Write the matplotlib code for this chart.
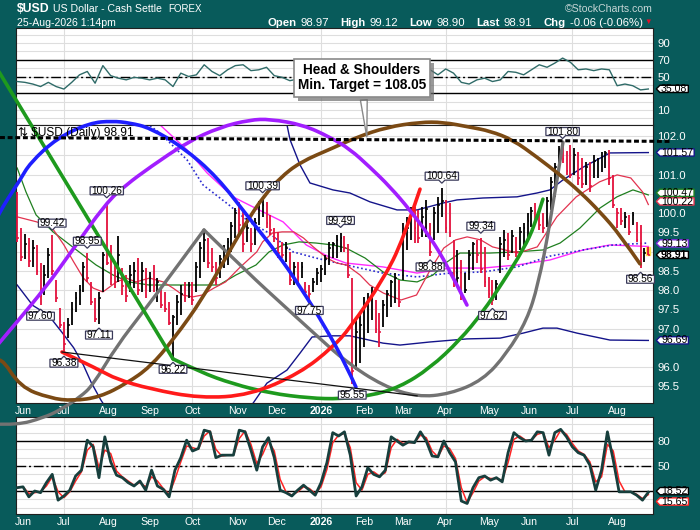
import numpy as np
import matplotlib
matplotlib.use("Agg")
import matplotlib.pyplot as plt
import matplotlib.transforms as mtransforms
import matplotlib.patheffects as pe
from matplotlib.path import Path
from matplotlib.patches import PathPatch, Rectangle
from matplotlib.offsetbox import TextArea, HPacker, AnchoredOffsetbox

plt.rcParams['font.family'] = ['Liberation Sans', 'DejaVu Sans']

TEAL = '#085b5b'
GRID = '#dedede'
NAVY = '#14148a'

# x axis is the trading-day index (0 = 2 Jun 2025)
month_idx = [0, 21, 44, 65, 87, 110, 130, 153, 175, 195, 217, 239, 260, 282, 305]
month_lbl = ['Jun', 'Jul', 'Aug', 'Sep', 'Oct', 'Nov', 'Dec', '2026',
             'Feb', 'Mar', 'Apr', 'May', 'Jun', 'Jul', 'Aug']
quarter_idx = [21, 87, 153, 217, 282]

# price bars, one every 2 trading days starting at index -3
highs = [100.55, 99.60, 99.45, 99.35, 99.30, 99.17, 98.70, 98.65, 99.10, 99.42,
         98.26, 97.53, 97.17, 97.27, 97.69, 97.95, 98.13, 98.73, 98.95, 98.20,
         97.79, 97.95, 99.00, 100.26, 99.17, 98.73, 99.40, 98.57, 98.39, 98.65,
         98.73, 98.83, 98.73, 98.57, 98.47, 98.65, 98.31, 98.05, 97.95, 97.69,
         97.35, 97.87, 98.13, 98.20, 98.20, 98.20, 98.73, 99.25, 99.56, 99.35,
         99.09, 98.73, 98.91, 99.17, 99.35, 99.77, 100.13, 100.29, 100.03, 99.87,
         99.61, 99.87, 100.30, 100.39, 100.29, 99.95, 99.61, 99.51, 99.25, 99.25,
         98.99, 98.73, 98.73, 98.73, 98.20, 98.13, 98.31, 98.57, 98.65, 98.91,
         99.25, 99.25, 99.43, 99.49, 99.40, 99.20, 98.30, 97.22, 97.40, 97.82,
         97.92, 98.08, 97.74, 97.40, 97.74, 98.00, 98.26, 98.44, 98.26, 99.74,
         99.90, 100.16, 100.16, 100.08, 100.16, 100.34, 99.74, 100.16, 100.42, 100.64,
         100.34, 100.26, 99.30, 99.04, 98.78, 98.44, 99.04, 99.25, 99.30, 99.34,
         99.12, 98.34, 98.26, 98.26, 99.38, 99.56, 99.48, 99.56, 99.38, 99.64,
         99.74, 100.00, 100.16, 100.26, 100.08, 100.00, 100.42, 100.94, 101.30, 101.75,
         101.80, 101.60, 101.77, 101.69, 101.58, 101.43, 101.32, 101.32, 101.50, 101.43,
         101.58, 101.62, 101.64, 100.99, 100.13, 100.13, 100.03, 99.95, 100.03, 99.77,
         99.69, 99.09, 99.12]
lows = [99.25, 98.75, 98.80, 98.60, 98.60, 98.40, 97.60, 97.87, 98.31, 98.40,
        97.69, 97.01, 96.38, 96.75, 97.09, 97.43, 97.61, 97.95, 98.20, 97.61,
        97.17, 97.11, 97.95, 98.65, 98.13, 98.05, 98.20, 97.87, 97.69, 97.95,
        98.05, 97.87, 97.95, 97.79, 97.95, 97.95, 97.69, 97.53, 97.43, 97.09,
        96.22, 97.09, 97.35, 97.69, 97.79, 97.61, 97.95, 98.31, 98.73, 98.57,
        98.47, 98.13, 98.31, 98.57, 98.65, 98.99, 99.35, 99.43, 98.99, 99.25,
        98.99, 99.17, 99.69, 99.90, 99.61, 99.43, 99.25, 98.83, 98.83, 98.73,
        98.13, 98.13, 98.20, 98.31, 97.87, 97.75, 97.95, 98.13, 98.20, 98.39,
        98.65, 98.83, 98.83, 98.99, 98.99, 98.30, 95.55, 95.92, 96.10, 96.52,
        96.88, 97.22, 96.88, 96.52, 97.04, 97.30, 97.56, 97.66, 97.56, 98.26,
        99.04, 99.30, 99.22, 99.22, 99.38, 99.38, 98.88, 99.30, 99.48, 99.90,
        99.48, 99.38, 98.08, 98.13, 97.74, 97.92, 98.26, 98.52, 98.70, 98.44,
        98.08, 97.79, 97.62, 97.74, 98.44, 98.86, 98.78, 98.96, 98.86, 99.04,
        99.12, 99.30, 99.64, 99.74, 99.56, 99.48, 99.64, 100.08, 100.42, 101.04,
        101.30, 101.00, 100.91, 100.99, 100.73, 100.65, 100.73, 100.55, 100.91, 100.91,
        101.06, 101.17, 100.73, 100.13, 99.61, 99.69, 99.61, 99.43, 99.69, 99.25,
        98.56, 98.73, 98.90]
closes = [99.35, 98.85, 99.20, 98.75, 99.10, 98.50, 97.85, 98.40, 98.90, 98.50,
          97.80, 97.10, 96.60, 97.10, 97.50, 97.80, 98.00, 98.60, 98.30, 97.70,
          97.25, 97.80, 98.90, 98.70, 98.30, 98.20, 98.90, 98.10, 97.85, 98.40,
          98.50, 98.00, 98.50, 98.10, 98.35, 98.10, 98.20, 97.60, 97.50, 97.15,
          97.30, 97.70, 97.90, 97.80, 98.10, 97.75, 98.60, 99.10, 99.30, 98.70,
          98.60, 98.30, 98.80, 99.05, 99.25, 99.65, 100.00, 99.70, 99.20, 99.60,
          99.20, 99.75, 100.15, 100.20, 99.75, 99.55, 99.35, 98.95, 98.90, 99.10,
          98.25, 98.60, 98.35, 98.60, 97.95, 97.90, 98.20, 98.45, 98.55, 98.80,
          99.10, 99.20, 99.30, 99.35, 99.10, 98.40, 95.90, 96.90, 97.10, 97.60,
          97.80, 97.90, 97.00, 96.90, 97.60, 97.90, 98.20, 98.30, 97.70, 99.50,
          99.60, 100.00, 99.60, 99.35, 99.90, 100.10, 99.00, 100.00, 100.20, 100.30,
          99.60, 99.50, 98.20, 98.30, 97.90, 98.00, 98.90, 99.20, 98.90, 98.55,
          98.20, 97.90, 97.75, 98.15, 99.20, 99.30, 98.90, 99.40, 99.00, 99.50,
          99.60, 99.80, 100.05, 99.85, 99.70, 99.60, 100.30, 100.80, 101.20, 101.65,
          101.40, 101.10, 101.00, 101.50, 100.90, 100.75, 101.20, 100.70, 101.35, 101.40,
          101.45, 101.55, 100.90, 100.20, 100.00, 99.80, 99.90, 99.50, 99.95, 99.30,
          98.65, 98.97, 98.91]
hi_marks = [9, 18, 23, 63, 83, 109, 119, 140]
lo_marks = [6, 12, 21, 40, 75, 86, 106, 122, 160]

# moving averages and channels (trading-day index, price)
ma20_x = [-3, 7, 15, 21, 26, 31, 36, 41, 48, 53, 58, 65, 72, 77, 82, 87, 92, 98, 104, 111,
          120, 123, 128, 133, 139, 144, 149, 156, 161, 166, 173, 178, 185, 194, 202, 209,
          216, 222, 228, 235, 241, 254, 264, 274, 284, 296, 305, 312, 318, 321]
ma20_y = [99.90, 99.77, 99.61, 99.17, 98.73, 98.31, 98.05, 97.95, 98.21, 98.31,
          98.21, 98.31, 98.21, 98.05, 97.87, 97.82, 97.87, 98.05, 98.21, 98.57,
          98.99, 99.25, 99.48, 99.51, 99.51, 99.35, 99.12, 98.83, 98.70, 98.65,
          98.39, 98.13, 97.92, 97.74, 97.87, 98.52, 99.09, 99.30, 99.38, 99.30,
          99.12, 98.96, 99.12, 99.90, 100.42, 100.81, 100.99, 100.91, 100.55, 100.22]
ma50_x = [-3, 1.5, 6.7, 15.4, 22.1, 30.8, 37.5, 46.2, 54.4, 64.7, 82.1, 100.6, 109.3,
          119.6, 126.3, 133.5, 141.7, 150.4, 159.1, 165.8, 175.6, 184.8, 193.5, 202.3,
          210.5, 217.7, 224.3, 239.7, 253.6, 266.9, 275.7, 285.9, 296.2, 304.9, 313.1, 321]
ma50_y = [101.17, 100.55, 99.95, 99.51, 99.25, 98.91, 98.65, 98.39, 98.21, 98.13,
          98.13, 98.13, 98.39, 98.65, 98.99, 99.17, 99.25, 99.22, 99.17, 99.09,
          98.83, 98.47, 98.26, 98.21, 98.39, 98.73, 98.96, 98.96, 98.99, 99.04,
          99.22, 99.61, 100.13, 100.42, 100.60, 100.47]
pink_x = [60, 70.3, 84.2, 94.5, 107.8, 116.0, 133.5, 145.4, 157.1, 165.8, 184.8, 202.3,
          219.2, 236.1, 253.6, 270.5, 287.5, 301.3, 321]
pink_y = [102.60, 102.29, 101.64, 101.04, 100.42, 100.21, 99.77, 99.17, 98.86, 98.70,
          98.60, 98.44, 98.57, 98.57, 98.65, 98.78, 99.04, 99.17, 99.13]
dot_x = [60, 70.3, 84.2, 92.4, 105.7, 116.0, 126.3, 138.6, 150.4, 165.8, 184.8, 202.3,
         219.2, 236.1, 253.6, 270.5, 287.5, 302.9, 321]
dot_y = [102.45, 102.08, 101.38, 100.73, 100.21, 99.77, 99.48, 98.99, 98.83, 98.65,
         98.44, 98.34, 98.44, 98.47, 98.60, 98.88, 99.04, 99.17, 99.22]
upper_x = [133.5, 135.5, 137.1, 142.2, 147.3, 159.1, 167.8, 178.1, 192.0, 202.3, 215.6,
           222.8, 236.1, 253.6, 263.9, 270.5, 277.2, 287.5, 301.3, 321]
upper_y = [102.47, 102.29, 101.90, 101.25, 100.78, 100.60, 100.52, 100.29, 100.08, 100.08,
           100.26, 100.34, 100.39, 100.42, 100.52, 100.60, 100.86, 101.19, 101.56, 101.57]
lower_x = [-3, 5, 13, 20, 26, 31, 35, 40, 45, 65, 106.3, 118.1, 125.2, 135.5, 142.2, 148.4,
           159.1, 167.8, 184.8, 193.5, 208.9, 227.9, 244.9, 256.7, 266.9, 274.1, 284.4, 301.3, 321]
lower_y = [98.13, 97.60, 97.35, 96.90, 96.50, 96.05, 95.60, 95.14, 94.75, 94.49,
           94.62, 95.06, 95.58, 95.92, 96.36, 96.78, 96.81, 96.81, 96.62, 96.57,
           96.65, 96.73, 96.75, 96.88, 97.01, 97.01, 96.88, 96.70, 96.69]

# hand-drawn cycle arcs and lines (trading-day index, price)
blue_x = [-14.4, -11.8, -8.2, -1.5, 3.6, 17.5, 34.4, 45.7, 54.9, 65.2, 82.1, 99.6, 116.0,
          129.9, 141.7, 155.5, 165.8, 170.9]
blue_y = [99.77, 100.03, 100.34, 100.86, 101.30, 101.95, 102.34, 102.39, 102.34, 102.21,
          101.71, 100.94, 99.87, 98.99, 98.13, 97.01, 96.05, 95.48]
purple_x = [-14.4, -11.8, -3.6, 11.8, 23.6, 42.6, 52.9, 65.2, 84.2, 101.1, 116.5, 126.8,
            143.7, 157.6, 167.8, 178.1, 188.4, 198.6, 208.9, 217.7, 227.9]
purple_y = [96.49, 96.65, 97.14, 98.08, 98.91, 100.26, 100.73, 101.19, 101.84, 102.23,
            102.42, 102.44, 102.29, 101.97, 101.66, 101.19, 100.68, 100.08, 99.38, 98.65, 97.61]
green_line_x = [-14.4, 77.0]
green_line_y = [103.84, 96.21]
green_x = [77.0, 90.9, 107.8, 126.8, 147.3, 162.7, 178.1, 193.5, 208.9, 224.3, 236.1,
           246.4, 256.7, 262.8, 266.9]
green_y = [96.21, 95.87, 95.56, 95.32, 95.19, 95.17, 95.25, 95.48, 95.97, 96.70, 97.43,
           98.21, 99.04, 99.69, 100.36]
gray_left_x = [-14.4, -3.1, 10.3, 19.0, 29.3, 35.9, 47.7, 63.1, 78.5, 92.9]
gray_left_y = [94.52, 94.49, 94.68, 94.88, 95.22, 95.53, 96.52, 97.53, 98.57, 99.56]
gray_x = [92.9, 116.0, 133.5, 150.4, 165.8, 184.8, 202.3, 219.2, 236.1, 248.5, 258.7,
          264.4, 270.5, 277.2]
gray_y = [99.56, 98.42, 97.61, 96.83, 96.13, 95.51, 95.22, 95.30, 95.66, 96.36, 97.22,
          98.13, 99.69, 101.84]
brown_x = [-14.4, -11.8, -1.5, 13.9, 25.7, 39.5, 53.4, 65.2, 77.0, 92.4, 105.7, 116.0,
           123.7, 131.9, 142.2, 159.1, 171.4, 186.8, 203.8, 215.6, 229.5, 239.7, 251.5,
           263.9, 275.7, 285.9, 296.2, 306.5, 316.7]
brown_y = [96.13, 96.31, 95.48, 95.19, 95.12, 95.22, 95.58, 96.00, 96.70, 97.79, 98.99,
           99.87, 100.44, 100.91, 101.32, 101.69, 101.97, 102.23, 102.36, 102.36, 102.23,
           102.13, 101.90, 101.45, 100.99, 100.55, 100.03, 99.43, 98.68]
red_x = [20.0, 39.5, 47.7, 65.2, 90.9, 116.5, 142.2, 159.1, 167.8, 184.8, 195.1, 203.8]
red_y = [96.39, 95.92, 95.69, 95.43, 95.19, 95.27, 95.84, 96.52, 97.01, 98.26, 99.30, 100.62]
trend_x = [20.0, 202.3]
trend_y = [96.39, 95.25]
neck_x = [-11.8, 333.2]
neck_y = [101.96, 101.86]
target_x = 176.6

# RSI(14), one value every 4 trading days from index -3
rsi = [44, 43, 41, 38, 43, 38, 35, 43, 52, 56,
       42, 63, 51, 48, 46, 49, 48, 46, 48, 46,
       38, 54, 50, 52, 64, 56, 51, 58, 63, 64,
       57, 58, 61, 51, 49, 45, 47, 50, 45, 41,
       43, 47, 42, 33, 30, 44, 51, 56, 60, 58,
       62, 60, 57, 58, 52, 59, 54, 43, 41, 46,
       48, 44, 46, 56, 55, 52, 58, 64, 61, 66,
       72, 67, 58, 59, 57, 59, 58, 39, 41, 39,
       34, 35.08]

# slow stochastics, one value every 3 trading days from index -3
sto_k = [24, 25, 13, 20, 18, 30, 40, 9, 14, 21,
         38, 45, 81, 73, 36, 85, 55, 39, 36, 30,
         26, 32, 21, 45, 26, 22, 13, 45, 60, 81,
         68, 71, 93, 91, 60, 63, 63, 63, 93, 91,
         69, 45, 73, 84, 60, 21, 18, 14, 21, 27,
         21, 15, 30, 54, 90, 86, 91, 63, 14, 25,
         48, 40, 37, 45, 85, 80, 75, 79, 78, 91,
         80, 62, 61, 80, 66, 55, 8, 5, 24, 36,
         38, 33, 36, 31, 66, 90, 84, 80, 81, 91,
         90, 63, 90, 94, 85, 73, 66, 63, 51, 21,
         45, 91, 57, 19, 19, 19, 15, 9, 18.52]
sto_d = [24, 25, 17, 18, 19, 26, 37, 19, 12, 19,
         32, 43, 69, 76, 48, 69, 65, 44, 37, 32,
         27, 30, 25, 37, 32, 23, 16, 34, 55, 74,
         72, 70, 86, 92, 70, 62, 63, 63, 83, 92,
         76, 53, 64, 80, 68, 34, 19, 15, 19, 25,
         23, 17, 25, 46, 78, 87, 89, 72, 30, 21,
         40, 43, 38, 42, 72, 82, 77, 78, 78, 87,
         84, 68, 61, 74, 71, 59, 24, 6, 18, 32,
         37, 35, 35, 33, 54, 82, 86, 81, 81, 88,
         90, 72, 81, 93, 88, 77, 68, 64, 55, 31,
         37, 76, 68, 32, 19, 19, 16, 11, 15.65]

bar_x = np.arange(len(highs)) * 2 - 3
rsi_x = np.arange(len(rsi)) * 4 - 3
sto_x = np.arange(len(sto_k)) * 3 - 3

W, H = 700, 530
fig = plt.figure(figsize=(W / 100, H / 100), dpi=100, facecolor=TEAL)


def rect(l, t, r, b):
    return [l / W, 1 - b / H, (r - l) / W, (b - t) / H]


ax_rsi = fig.add_axes(rect(16, 28, 653, 125))
ax = fig.add_axes(rect(16, 125, 653, 403))
ax_sto = fig.add_axes(rect(16, 417, 653, 514))
ax.set_zorder(5)
XLIM = (-3.6, 323.4)


def style(a, ylim, yticks, labels, grid_levels):
    a.set_xlim(*XLIM)
    a.set_ylim(*ylim)
    a.set_facecolor('white')
    for s in a.spines.values():
        s.set_color('#202020')
        s.set_linewidth(0.8)
    a.yaxis.tick_right()
    a.set_yticks(yticks, labels)
    a.tick_params(axis='y', colors='white', length=0, pad=3, labelsize=8.2)
    a.tick_params(axis='x', colors='white', length=0, pad=2.5, labelsize=7.6)
    for q in quarter_idx:
        a.axvline(q, color=GRID, lw=0.8, zorder=0)
    for g in grid_levels:
        a.axhline(g, color=GRID, lw=0.8, zorder=0)


# tick labels hidden behind the value tags on the right are left blank
main_ticks = [95.5, 96.0, 96.5, 97.0, 97.5, 98.0, 98.5, 99.0, 99.5, 100.0,
              100.5, 101.0, 101.5, 102.0]
covered = [96.5, 99.0, 100.5, 101.5]
main_lbls = ['' if v in covered else f'{v:.1f}' for v in main_ticks]
style(ax_rsi, (-7.9, 107.9), [10, 30, 50, 70, 90], ['10', '', '50', '70', '90'],
      range(0, 101, 10))
style(ax, (95.065, 102.286), main_ticks, main_lbls, main_ticks)
style(ax_sto, (-7.6, 108.8), [20, 50, 80], ['', '50', '80'], range(0, 101, 10))
ax_rsi.set_xticks([])
for a in (ax, ax_sto):
    a.set_xticks(month_idx, month_lbl)
    for lbl in a.get_xticklabels():
        if lbl.get_text() == '2026':
            lbl.set_fontweight('bold')

DASHDOT = (0, (7, 2, 1.5, 2))
for a, lo, hi in ((ax_rsi, 30, 70), (ax_sto, 20, 80)):
    a.axhline(lo, color='black', lw=1.0, zorder=1)
    a.axhline(hi, color='black', lw=1.0, zorder=1)
    a.axhline(50, color='black', lw=1.0, ls=DASHDOT, zorder=1)

# RSI and stochastics
ax_rsi.plot(rsi_x, rsi, color='#2f6b68', lw=1.0, zorder=3)
ax_sto.plot(sto_x, sto_d, color='#ff2424', lw=1.1, zorder=3)
ax_sto.plot(sto_x, sto_k, color='#173f3d', lw=2.0, zorder=4)

# overlays
ax.plot(upper_x, upper_y, color=NAVY, lw=1.0, zorder=2)
ax.plot(lower_x, lower_y, color=NAVY, lw=1.0, zorder=2)
ax.plot(pink_x, pink_y, color='#ff2bff', lw=1.0, zorder=2)
ax.plot(dot_x, dot_y, color='#2b2bd0', lw=1.2, ls=(0, (1, 1.5)), zorder=2)
ax.plot(ma50_x, ma50_y, color='#1f7f1f', lw=0.9, zorder=2)
ax.plot(ma20_x, ma20_y, color='#e2334f', lw=0.9, zorder=2)

# OHLC bars
closes_a = np.array(closes)
prev = np.r_[closes_a[0], closes_a[:-1]]
bar_col = np.where(closes_a > prev, '#000000', '#e3103c')
ax.add_patch(Rectangle((bar_x[-1] - 1.0, lows[-1]), 2.0, highs[-1] - lows[-1],
                       color='#ffe34d', zorder=2.8))
ax.vlines(bar_x, lows, highs, colors=bar_col, lw=1.3, zorder=3)
ax.hlines(closes, bar_x, bar_x + 0.9, colors=bar_col, lw=1.1, zorder=3)


def smooth(xs, ys):
    pts = list(zip(xs, ys))
    if len(pts) == 2:
        return Path(pts, [Path.MOVETO, Path.LINETO])
    verts, codes = [pts[0]], [Path.MOVETO]
    for k in range(1, len(pts) - 1):
        if k == len(pts) - 2:
            end = pts[k + 1]
        else:
            end = ((pts[k][0] + pts[k + 1][0]) / 2, (pts[k][1] + pts[k + 1][1]) / 2)
        verts += [pts[k], end]
        codes += [Path.CURVE3, Path.CURVE3]
    return Path(verts, codes)


arcs = [(gray_left_x, gray_left_y, '#727272', 2.4),
        (gray_x, gray_y, '#727272', 2.4),
        (brown_x, brown_y, '#7b4a14', 2.6),
        (green_line_x, green_line_y, '#1e9a1e', 2.6),
        (green_x, green_y, '#1e9a1e', 2.6),
        (red_x, red_y, '#ff1a1a', 2.6),
        (purple_x, purple_y, '#a21eff', 2.6),
        (blue_x, blue_y, '#1f1fff', 2.6)]
for xs, ys, col, lw in arcs:
    ax.add_patch(PathPatch(smooth(xs, ys), fill=False, ec=col, lw=lw,
                           clip_on=False, zorder=4, capstyle='round'))
ax.plot(trend_x, trend_y, color='#111111', lw=0.9, zorder=4)
ax.plot(neck_x, neck_y, color='black', lw=2.2, ls=(0, (1.6, 0.9)),
        clip_on=False, zorder=4.5)


def flag(direction):
    def shape(x0, y0, w, h, ms):
        x0, w = x0 - 0.12 * ms, w + 0.24 * ms
        y0, h = y0 + 0.12 * ms, h - 0.2 * ms
        cx, t = x0 + w / 2, 0.3 * ms
        if direction < 0:
            v = [(x0, y0), (cx - t, y0), (cx, y0 - t), (cx + t, y0), (x0 + w, y0),
                 (x0 + w, y0 + h), (x0, y0 + h), (x0, y0)]
        else:
            top = y0 + h
            v = [(x0, y0), (x0 + w, y0), (x0 + w, top), (cx + t, top), (cx, top + t),
                 (cx - t, top), (x0, top), (x0, y0)]
        return Path(v, closed=True)
    return shape


for j in hi_marks:
    ax.annotate(f'{highs[j]:.2f}', xy=(bar_x[j], highs[j]), xytext=(0, 12),
                textcoords='offset pixels', ha='center', va='center', fontsize=7.3,
                bbox=dict(boxstyle=flag(-1), fc='white', ec='#3a3a5a', lw=0.9),
                zorder=6, annotation_clip=False)
for j in lo_marks:
    ax.annotate(f'{lows[j]:.2f}', xy=(bar_x[j], lows[j]), xytext=(0, -11),
                textcoords='offset pixels', ha='center', va='center', fontsize=7.3,
                bbox=dict(boxstyle=flag(1), fc='white', ec='#3a3a5a', lw=0.9),
                zorder=6, annotation_clip=False)


def tag_shape(x0, y0, w, h, ms):
    x0, w = x0 - 0.1 * ms, w + 0.2 * ms
    y0, h = y0 + 0.14 * ms, h - 0.26 * ms
    tip = h * 0.5
    return Path([(x0, y0), (x0 + w, y0), (x0 + w, y0 + h), (x0, y0 + h),
                 (x0 - tip, y0 + h / 2), (x0, y0)], closed=True)


def tag(a, value, ec, bold=False, dy=0):
    tr = mtransforms.blended_transform_factory(a.transAxes, a.transData)
    a.annotate(f'{value:.2f}', xy=(1, value), xycoords=tr, xytext=(8, dy),
               textcoords='offset pixels', ha='left', va='center', fontsize=7.6,
               fontweight='bold' if bold else 'normal', color='black',
               bbox=dict(boxstyle=tag_shape, fc='white', ec=ec, lw=1.0),
               annotation_clip=False, zorder=7)


tag(ax_rsi, rsi[-1], '#000000')
tag(ax, upper_y[-1], NAVY)
tag(ax, ma50_y[-1], '#1f7f1f', dy=2)
tag(ax, ma20_y[-1], '#e2334f', dy=3)
tag(ax, pink_y[-1], '#7a2bd8', dy=3)
tag(ax, closes[-1], '#000000', bold=True, dy=0)
tag(ax, lower_y[-1], NAVY)
tag(ax_sto, sto_d[-1], '#ff2424', dy=-7)
tag(ax_sto, sto_k[-1], '#000000', dy=1)

ax.text(0.003, 0.971, '⇅ $USD (Daily) 98.91', transform=ax.transAxes, fontsize=8.6,
        va='center', ha='left', zorder=6)

# head & shoulders callout
target_y = np.interp(target_x, neck_x, neck_y)
note = ax.annotate('Head & Shoulders\nMin. Target = 108.05', xy=(target_x, target_y),
                   xytext=(-5, 62), textcoords='offset pixels', ha='left', va='center',
                   fontsize=9.8, fontweight='bold', linespacing=1.15,
                   bbox=dict(boxstyle='square,pad=0.3', fc='white', ec='#8a8a8a', lw=1.2),
                   arrowprops=dict(arrowstyle='wedge,tail_width=0.5,shrink_factor=0.5',
                                   fc='white', ec='#8a8a8a', lw=1.0),
                   zorder=8, annotation_clip=False)
note.set_horizontalalignment('center')
note.get_bbox_patch().set_path_effects(
    [pe.withSimplePatchShadow(offset=(3, -3), shadow_rgbFace='#6e6e6e', alpha=0.7)])

# header
fig.text(17 / W, 1 - 9 / H, '$USD', color='white', fontsize=8.8, fontweight='bold', va='center')
fig.text(53 / W, 1 - 9 / H, 'US Dollar - Cash Settle', color='white', fontsize=7.6, va='center')
fig.text(168 / W, 1 - 9 / H, 'FOREX', color='white', fontsize=7.0, va='center')
fig.text(17 / W, 1 - 23 / H, '25-Aug-2026 1:14pm', color='white', fontsize=7.6, va='center')
fig.text(653 / W, 1 - 9 / H, '©StockCharts.com', color='#c6d6d6', fontsize=7.6,
         ha='right', va='center')

quote = [('Open', '98.97'), ('High', '99.12'), ('Low', '98.90'), ('Last', '98.91'),
         ('Chg', '-0.06 (-0.06%)')]
pairs = []
for name, val in quote:
    pairs.append(HPacker(children=[
        TextArea(name, textprops=dict(color='white', fontsize=8.2, fontweight='bold')),
        TextArea(val, textprops=dict(color='white', fontsize=8.2))], pad=0, sep=3))
header = AnchoredOffsetbox(loc='center right', child=HPacker(children=pairs, pad=0, sep=8),
                           pad=0, borderpad=0, frameon=False,
                           bbox_to_anchor=(643 / W, 1 - 23 / H),
                           bbox_transform=fig.transFigure)
fig.add_artist(header)
fig.text(648 / W, 1 - 22 / H, '▼', color='#e0102a', fontsize=5.5, ha='center', va='center')

fig.savefig('out.png', dpi=100, facecolor=TEAL)
